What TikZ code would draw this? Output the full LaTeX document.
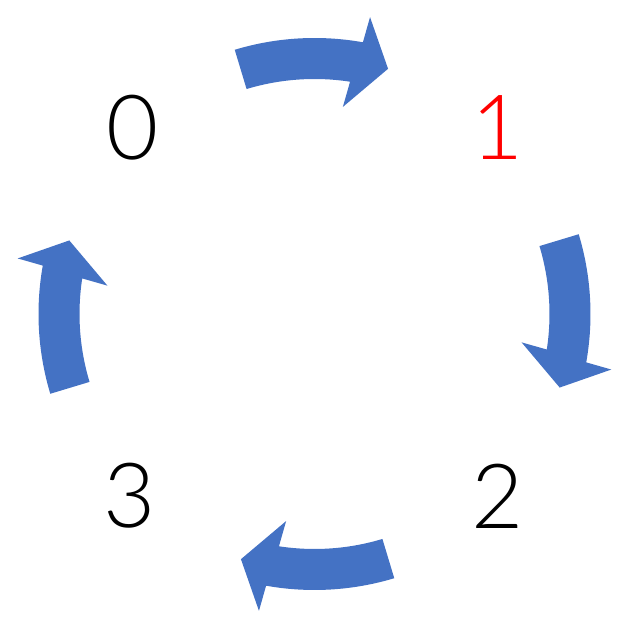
\documentclass[tikz,border=0pt]{standalone}
\usepackage{fontspec}
\newfontfamily\digitfont{Lato Light}
\definecolor{arrowblue}{HTML}{4472C4}
\definecolor{digitred}{HTML}{FF0000}
\begin{document}
\begin{tikzpicture}[x=1pt,y=1pt,
  digit/.style={font=\digitfont\fontsize{90}{90}\selectfont, inner sep=0pt, anchor=center},
  blockarrow/.style={fill=arrowblue, draw=none}]
\useasboundingbox (0,0) rectangle (627,620);
\coordinate (C) at (314.5,306);
\foreach \r in {0,-90,180,90} {
  \fill[blockarrow, shift={(C)}, rotate=\r]
    (106.8:276pt) arc[start angle=106.8, end angle=79.9, radius=276pt]
    -- (79.4:302pt) -- (73.3:256pt) -- (82.2:209pt) -- (81.3:235pt)
    arc[start angle=81.3, end angle=106.8, radius=235pt] -- cycle;
}
\node[digit] (d0) at (132.5,492.5) {0};
\node[digit, text=digitred] (d1) at (498,492.5) {1};
\node[digit] (d2) at (497.5,124) {2};
\node[digit] (d3) at (130,124) {3};
\end{tikzpicture}
\end{document}
